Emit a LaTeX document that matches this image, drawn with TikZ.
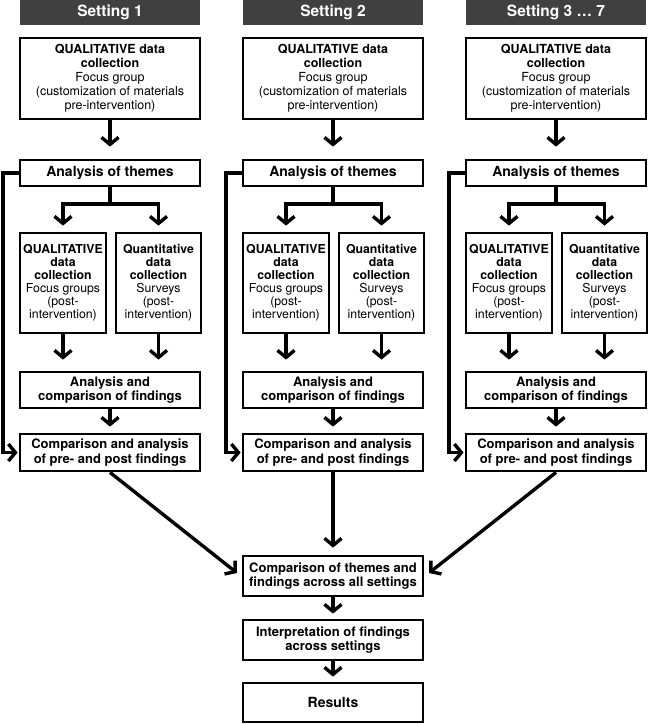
\documentclass[tikz,border=0pt]{standalone}
\usepackage{fontspec}
\setmainfont{TeX Gyre Heros}
\usetikzlibrary{arrows.meta}
\definecolor{hdr}{HTML}{404040}
\begin{document}
\begin{tikzpicture}[x=1pt,y=-1pt,
  box/.style={draw=black,line width=2.8pt,inner sep=0pt,align=center,font=\fontsize{13}{14.4}\selectfont},
  bigbox/.style={box,font=\fontsize{14}{15}\selectfont},
  topbox/.style={box,font=\fontsize{12.5}{14}\selectfont},
  subbox/.style={box,font=\fontsize{12.3}{13}\selectfont},
  hdrbox/.style={fill=hdr,text=white,inner sep=0pt,minimum width=180pt,minimum height=25pt,font=\fontsize{15.5}{16}\bfseries\selectfont},
  arr/.style={line width=3.4pt,line join=miter,-{Straight Barb[length=7pt,width=17pt,line width=3.4pt]}},
  ln/.style={line width=3.4pt,line join=miter}]
\useasboundingbox (0,0) rectangle (648,724);
\foreach \c/\dx/\title in {1/0/Setting 1,2/223/Setting 2,3/446/Setting 3 … 7}{
  \node[hdrbox] (h\c) at (110+\dx,12.5) {\title};
  \node[topbox,minimum width=180pt,minimum height=81pt] (t\c) at (110+\dx,78.5)
    {\textbf{QUALITATIVE data}\\\textbf{collection}\\Focus group\\(customization of materials\\pre-intervention)};
  \node[bigbox,minimum width=180pt,minimum height=26pt] (th\c) at (110+\dx,173) {\textbf{Analysis of themes}};
  \node[subbox,minimum width=86pt,minimum height=100pt] (ql\c) at (63+\dx,283)
    {\textbf{QUALITATIVE}\\\textbf{data}\\\textbf{collection}\\Focus groups\\(post-\\intervention)};
  \node[subbox,minimum width=85pt,minimum height=100pt] (qn\c) at (158.5+\dx,283)
    {\textbf{Quantitative}\\\textbf{data}\\\textbf{collection}\\Surveys\\(post-\\intervention)};
  \node[box,minimum width=180pt,minimum height=36pt] (ac\c) at (110+\dx,390)
    {\textbf{Analysis and}\\\textbf{comparison of findings}};
  \node[box,minimum width=180pt,minimum height=37pt] (cp\c) at (110+\dx,452.5)
    {\textbf{Comparison and analysis}\\\textbf{of pre- and post findings}};
  \coordinate (br\c) at (110+\dx,204);
  \coordinate (fb\c) at (3+\dx,173);
  \draw[arr,shorten >=12pt] (t\c) -- (th\c);
  \draw[ln] (th\c.south) -- (br\c);
  \draw[arr,shorten >=6pt] (br\c) -| (ql\c);
  \draw[arr,shorten >=6pt] (br\c) -| (qn\c);
  \draw[arr,shorten >=11pt] (ql\c.south) -- (ql\c.south |- ac\c.north);
  \draw[arr,shorten >=11pt] (qn\c.south) -- (qn\c.south |- ac\c.north);
  \draw[arr,shorten >=6pt] (ac\c) -- (cp\c);
  \draw[arr,shorten >=1pt] (th\c.west) -- (fb\c) |- (cp\c.west);
}
\node[box,minimum width=180pt,minimum height=40pt] (all) at (333,576)
  {\textbf{Comparison of themes and}\\\textbf{findings across all settings}};
\node[box,minimum width=180pt,minimum height=40pt] (int) at (333,640)
  {\textbf{Interpretation of findings}\\\textbf{across settings}};
\node[bigbox,minimum width=180pt,minimum height=39pt] (res) at (333,702.5)
  {\textbf{Results}};
\coordinate (ea) at (237,573);
\coordinate (eb) at (429,573);
\draw[arr] (cp1.south) -- (ea);
\draw[arr] (cp3.south) -- (eb);
\draw[arr,shorten >=7pt] (cp2) -- (all);
\draw[arr,shorten >=5pt] (all) -- (int);
\draw[arr,shorten >=5pt] (int) -- (res);
\end{tikzpicture}
\end{document}
